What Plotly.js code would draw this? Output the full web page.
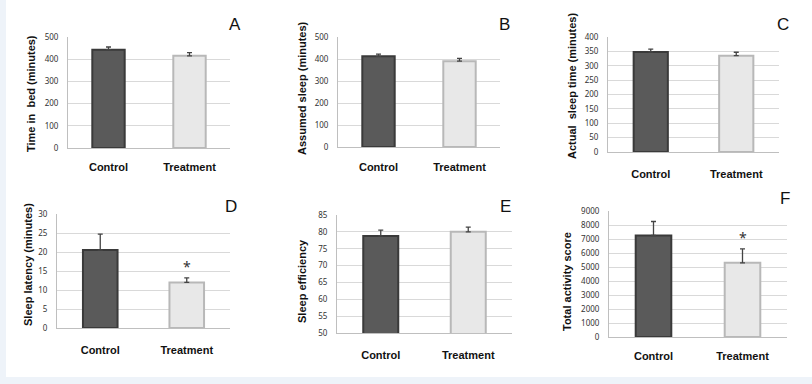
<!DOCTYPE html>
<html>
<head>
<meta charset="utf-8">
<script src="https://cdn.plot.ly/plotly-3.0.1.min.js"></script>
<style>html,body{margin:0;padding:0;background:#fff;}#chart{width:812px;height:384px;}</style>
</head>
<body>
<div id="chart"></div>
<script>
var categories = ['Control', 'Treatment'];
var timeInBed = [443, 415];
var timeInBedErr = [12, 15];
var assumedSleep = [412, 390];
var assumedSleepErr = [10, 13];
var actualSleep = [348, 335];
var actualSleepErr = [10, 12];
var sleepLatency = [20.5, 12];
var sleepLatencyErr = [4.2, 1.2];
var sleepEfficiency = [78.8, 80];
var sleepEfficiencyErr = [1.7, 1.4];
var activityScore = [7250, 5300];
var activityScoreErr = [1000, 1000];
var panelLetters = ['A', 'B', 'C', 'D', 'E', 'F'];
var yTitles = ['Time in  bed (minutes)', 'Assumed sleep (minutes)', 'Actual  sleep time (minutes)',
               'Sleep latency (minutes)', 'Sleep efficiency', 'Total activity score'];
var yRanges = [[0, 500], [0, 500], [0, 400], [0, 30], [50, 85], [0, 9000]];
var yDticks = [100, 100, 50, 5, 5, 1000];
var starValues = [null, null, null, 16.3, null, 7100];

var values = [timeInBed, assumedSleep, actualSleep, sleepLatency, sleepEfficiency, activityScore];
var errs = [timeInBedErr, assumedSleepErr, actualSleepErr, sleepLatencyErr, sleepEfficiencyErr, activityScoreErr];

// layout geometry in pixels
var W = 812, H = 384;
var boxes = [
  {x0: 68, x1: 230, y0: 37, y1: 148, tx: 31, ty: 94, lx: 235, ly: 25, cs: 9},
  {x0: 338, x1: 500, y0: 37, y1: 147, tx: 302, ty: 88, lx: 504, ly: 25, cs: 10},
  {x0: 608, x1: 779, y0: 37, y1: 152, tx: 572, ty: 86, lx: 783, ly: 25, cs: 12},
  {x0: 57, x1: 230, y0: 214, y1: 328, tx: 28, ty: 265, lx: 231, ly: 206, cs: 12},
  {x0: 337, x1: 512, y0: 215, y1: 333, tx: 302, ty: 281, lx: 506, ly: 206, cs: 12},
  {x0: 609, x1: 787, y0: 211, y1: 337, tx: 567, ty: 282, lx: 785, ly: 198, cs: 9}
];

var font = 'Noto Sans, Open Sans, sans-serif';
var boldFont = 'Liberation Sans, Arial, sans-serif';
var data = [];
var layout = {
  width: W, height: H,
  margin: {l: 0, r: 0, t: 0, b: 0},
  paper_bgcolor: '#ffffff',
  plot_bgcolor: 'rgba(0,0,0,0)',
  showlegend: false,
  annotations: [],
  shapes: [
    {type: 'rect', xref: 'paper', yref: 'paper', x0: 0, x1: 6 / W, y0: 0, y1: 1, fillcolor: '#eef3f9', line: {width: 0}, layer: 'below'},
    {type: 'rect', xref: 'paper', yref: 'paper', x0: 0, x1: 1, y0: 0, y1: 7 / H, fillcolor: '#eef3f9', line: {width: 0}, layer: 'below'}
  ]
};

for (var i = 0; i < 6; i++) {
  var b = boxes[i];
  var sfx = i === 0 ? '' : String(i + 1);
  data.push({
    type: 'bar',
    x: categories,
    y: values[i],
    xaxis: 'x' + sfx,
    yaxis: 'y' + sfx,
    width: 0.4,
    marker: {
      color: ['#5a5a5a', '#e8e8e8'],
      line: {color: ['#3a3a3a', '#b8b8b8'], width: 2}
    },
    error_y: {
      type: 'data', symmetric: false, array: errs[i], arrayminus: [0, 0],
      color: '#444', thickness: 1.3, width: 2.5
    },
    hoverinfo: 'none'
  });
  layout['xaxis' + sfx] = {
    domain: [b.x0 / W, b.x1 / W],
    anchor: 'y' + sfx,
    type: 'category',
    showgrid: false,
    showline: true, linecolor: '#bfbfbf', linewidth: 1,
    ticks: '',
    ticklabelstandoff: b.cs,
    tickfont: {family: boldFont, size: 11, color: '#111', weight: 'bold'},
    fixedrange: true
  };
  layout['yaxis' + sfx] = {
    domain: [1 - b.y1 / H, 1 - b.y0 / H],
    anchor: 'x' + sfx,
    range: yRanges[i],
    dtick: yDticks[i],
    tick0: yRanges[i][0],
    showgrid: true, gridcolor: '#d9d9d9', gridwidth: 1,
    zeroline: false,
    showline: true, linecolor: '#bfbfbf', linewidth: 1,
    ticks: '',
    ticklabelstandoff: 7,
    tickfont: {family: font, size: 8, color: '#333'},
    fixedrange: true
  };
  layout.annotations.push({
    xref: 'paper', yref: 'paper', x: b.tx / W, y: 1 - b.ty / H,
    text: '<b>' + yTitles[i] + '</b>', textangle: -90, showarrow: false,
    xanchor: 'center', yanchor: 'middle',
    font: {family: boldFont, size: 11, color: '#111'}
  });
  layout.annotations.push({
    xref: 'paper', yref: 'paper', x: b.lx / W, y: 1 - b.ly / H,
    text: panelLetters[i], showarrow: false, xanchor: 'center', yanchor: 'middle',
    font: {family: 'Liberation Sans, Arial, sans-serif', size: 17, color: '#111'}
  });
  if (starValues[i] !== null) {
    layout.annotations.push({
      xref: 'x' + sfx, yref: 'y' + sfx, x: categories[1], y: starValues[i],
      text: '*', showarrow: false, xanchor: 'center', yanchor: 'middle',
      font: {family: font, size: 14, color: '#333'}
    });
  }
}

Plotly.newPlot('chart', data, layout, {staticPlot: true});
</script>
</body>
</html>
